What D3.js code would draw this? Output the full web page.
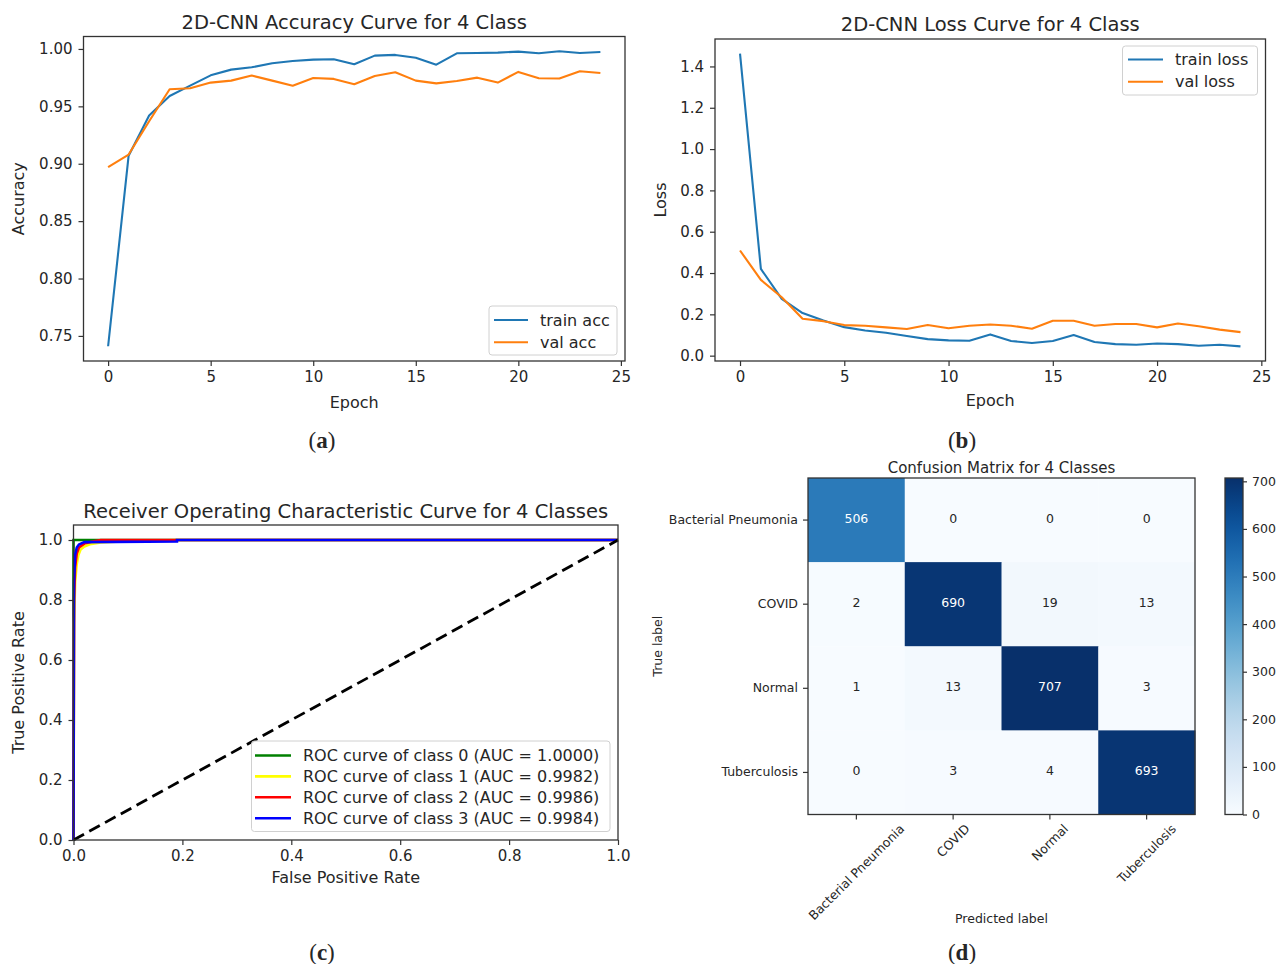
<!DOCTYPE html>
<html>
<head>
<meta charset="utf-8">
<script src="https://cdn.jsdelivr.net/npm/d3@7"></script>
<style>
body { margin: 0; background: #fff; }
text { font-family: "DejaVu Sans", sans-serif; fill: #262626; }
.caption { font-family: "Liberation Serif", serif; font-size: 23px; }
</style>
</head>
<body>
<div id="chart"></div>
<script>
// ---- data ----
const epochs = [0, 1, 2, 3, 4, 5, 6, 7, 8, 9, 10, 11, 12, 13, 14, 15, 16, 17, 18, 19, 20, 21, 22, 23, 24];
const trainAcc = [0.741, 0.907, 0.942, 0.959, 0.968, 0.977, 0.982, 0.984, 0.9875, 0.9895, 0.9907, 0.991, 0.9867, 0.9942, 0.9948, 0.9924, 0.9863, 0.9962, 0.9965, 0.9968, 0.9977, 0.9962, 0.998, 0.9965, 0.9974];
const valAcc = [0.897, 0.908, 0.937, 0.9649, 0.9658, 0.9707, 0.9724, 0.9768, 0.9724, 0.968, 0.9747, 0.9739, 0.9692, 0.9765, 0.9797, 0.9724, 0.970, 0.9721, 0.975, 0.9707, 0.980, 0.9745, 0.9742, 0.9806, 0.9791];
const trainLoss = [1.462, 0.420, 0.275, 0.206, 0.170, 0.138, 0.122, 0.111, 0.095, 0.080, 0.074, 0.072, 0.103, 0.071, 0.061, 0.071, 0.100, 0.066, 0.056, 0.053, 0.059, 0.056, 0.048, 0.053, 0.045];
const valLoss = [0.509, 0.367, 0.283, 0.179, 0.167, 0.148, 0.145, 0.137, 0.129, 0.148, 0.133, 0.145, 0.151, 0.145, 0.130, 0.169, 0.169, 0.145, 0.153, 0.153, 0.137, 0.156, 0.142, 0.126, 0.114];

const accTicks = [0.75, 0.80, 0.85, 0.90, 0.95, 1.00];
const lossTicks = [0.0, 0.2, 0.4, 0.6, 0.8, 1.0, 1.2, 1.4];
const epochTicks = [0, 5, 10, 15, 20, 25];

// ROC curves (fpr, tpr) per class
const rocNames = ["ROC curve of class 0 (AUC = 1.0000)", "ROC curve of class 1 (AUC = 0.9982)",
                  "ROC curve of class 2 (AUC = 0.9986)", "ROC curve of class 3 (AUC = 0.9984)"];
const rocColors = ["green", "yellow", "red", "blue"];
const rocFpr0 = [0, 0, 1];
const rocTpr0 = [0, 1, 1];
const rocFpr1 = [0, 0.001, 0.003, 0.006, 0.009, 0.013, 0.02, 0.03, 0.05, 0.1, 0.19, 1];
const rocTpr1 = [0, 0.72, 0.86, 0.92, 0.95, 0.968, 0.978, 0.986, 0.992, 0.996, 1, 1];
const rocFpr2 = [0, 0.001, 0.003, 0.006, 0.01, 0.02, 0.035, 0.05, 1];
const rocTpr2 = [0, 0.8, 0.91, 0.955, 0.975, 0.988, 0.995, 1, 1];
const rocFpr3 = [0, 0.001, 0.003, 0.006, 0.01, 0.02, 0.19, 0.19, 1];
const rocTpr3 = [0, 0.86, 0.95, 0.975, 0.985, 0.993, 0.995, 1, 1];
const rateTicks = [0, 0.2, 0.4, 0.6, 0.8, 1.0];

// confusion matrix
const classNames = ["Bacterial Pneumonia", "COVID", "Normal", "Tuberculosis"];
const confusion = [
    [506, 0, 0, 0],
    [2, 690, 19, 13],
    [1, 13, 707, 3],
    [0, 3, 4, 693]
];
const colorbarTicks = [0, 100, 200, 300, 400, 500, 600, 700];

// ---- setup ----
const svg = d3.select("#chart").append("svg")
    .attr("width", 1282)
    .attr("height", 964);
svg.append("rect").attr("width", 1282).attr("height", 964).attr("fill", "#fff");

const TICK_FS = 15, LABEL_FS = 16, LEGEND_FS = 16, TITLE_FS = 19.5;

// matplotlib style autoscale: 5% margin on each side
function padDomain(vals) {
    const [lo, hi] = d3.extent(vals);
    const m = (hi - lo) * 0.05;
    return [lo - m, hi + m];
}

function frame(box) {
    svg.append("rect")
        .attr("x", box.left).attr("y", box.top)
        .attr("width", box.right - box.left).attr("height", box.bottom - box.top)
        .attr("fill", "none").attr("stroke", "#333").attr("stroke-width", 1.3);
}

function styleAxis(g, fs) {
    g.select(".domain").remove();
    g.selectAll(".tick line").attr("stroke", "#333").attr("stroke-width", 1.2);
    g.selectAll(".tick text").style("font-size", fs + "px");
}

function drawAxes(box, x, y, xTicks, yTicks, xFmt, yFmt) {
    const gx = svg.append("g")
        .attr("transform", "translate(0," + box.bottom + ")")
        .call(d3.axisBottom(x).tickValues(xTicks).tickFormat(xFmt).tickSize(5).tickPadding(5));
    styleAxis(gx, TICK_FS);
    const gy = svg.append("g")
        .attr("transform", "translate(" + box.left + ",0)")
        .call(d3.axisLeft(y).tickValues(yTicks).tickFormat(yFmt).tickSize(5).tickPadding(6));
    styleAxis(gy, TICK_FS);
}

function title(txt, x, y, fs) {
    svg.append("text").attr("x", x).attr("y", y)
        .attr("text-anchor", "middle").style("font-size", fs + "px").text(txt);
}

function yLabel(txt, x, y, fs) {
    svg.append("text")
        .attr("transform", "translate(" + x + "," + y + ") rotate(-90)")
        .attr("text-anchor", "middle").attr("dominant-baseline", "central")
        .style("font-size", fs + "px").text(txt);
}

function caption(letter, x, y) {
    const t = svg.append("text").attr("class", "caption")
        .attr("x", x).attr("y", y).attr("text-anchor", "middle");
    t.append("tspan").text("(");
    t.append("tspan").attr("font-weight", "bold").text(letter);
    t.append("tspan").text(")");
}

// legend: box = {x, y, w, h}, rows at y0 + i*gap
function legend(box, names, colors, lx0, lx1, tx, y0, gap, lw) {
    svg.append("rect")
        .attr("x", box.x).attr("y", box.y).attr("width", box.w).attr("height", box.h)
        .attr("rx", 3).attr("fill", "#fff").attr("fill-opacity", 0.85)
        .attr("stroke", "#d0d0d0").attr("stroke-width", 1);
    names.forEach((n, i) => {
        const yy = y0 + i * gap;
        svg.append("line").attr("x1", lx0).attr("x2", lx1).attr("y1", yy).attr("y2", yy)
            .attr("stroke", colors[i]).attr("stroke-width", lw);
        svg.append("text").attr("x", tx).attr("y", yy).attr("dominant-baseline", "central")
            .style("font-size", LEGEND_FS + "px").text(n);
    });
}

// ---- panels (a) and (b) ----
function linePanel(cfg) {
    const box = cfg.box;
    const x = d3.scaleLinear().domain(padDomain(epochs)).range([box.left, box.right]);
    const y = d3.scaleLinear().domain(padDomain(cfg.series.flatMap(s => s.values))).range([box.bottom, box.top]);

    const line = d3.line().x((d, i) => x(epochs[i])).y(d => y(d));
    cfg.series.forEach(s => {
        svg.append("path").datum(s.values)
            .attr("d", line).attr("fill", "none")
            .attr("stroke", s.color).attr("stroke-width", 2.1)
            .attr("stroke-linejoin", "round");
    });

    drawAxes(box, x, y, epochTicks, cfg.yTicks, d3.format("d"), d3.format(cfg.yFmt));
    frame(box);

    title(cfg.title, (box.left + box.right) / 2, cfg.titleY, TITLE_FS);
    svg.append("text").attr("x", (box.left + box.right) / 2).attr("y", cfg.xlabelY)
        .attr("text-anchor", "middle").style("font-size", LABEL_FS + "px").text("Epoch");
    yLabel(cfg.ylabel, cfg.ylabelX, (box.top + box.bottom) / 2, LABEL_FS);

    const L = cfg.legend;
    legend(L.box, cfg.series.map(s => s.name), cfg.series.map(s => s.color),
        L.lx0, L.lx1, L.tx, L.y0, L.gap, 2.1);
}

linePanel({
    box: { left: 83.5, right: 625, top: 36.5, bottom: 361 },
    series: [
        { values: trainAcc, color: "#1f77b4", name: "train acc" },
        { values: valAcc, color: "#ff7f0e", name: "val acc" }
    ],
    yTicks: accTicks, yFmt: ".2f",
    title: "2D-CNN Accuracy Curve for 4 Class", titleY: 29,
    xlabelY: 408, ylabel: "Accuracy", ylabelX: 18,
    legend: { box: { x: 489, y: 306, w: 128, h: 49 }, lx0: 494, lx1: 528, tx: 540, y0: 320, gap: 22.3 }
});

linePanel({
    box: { left: 715, right: 1265.5, top: 39, bottom: 361 },
    series: [
        { values: trainLoss, color: "#1f77b4", name: "train loss" },
        { values: valLoss, color: "#ff7f0e", name: "val loss" }
    ],
    yTicks: lossTicks, yFmt: ".1f",
    title: "2D-CNN Loss Curve for 4 Class", titleY: 31,
    xlabelY: 406, ylabel: "Loss", ylabelX: 660,
    legend: { box: { x: 1122.5, y: 46, w: 135, h: 49 }, lx0: 1128, lx1: 1163, tx: 1175, y0: 59.5, gap: 22.3 }
});

caption("a", 322, 448);
caption("b", 962, 448);

// ---- panel (c) ROC ----
(function () {
    const box = { left: 73.5, right: 618, top: 525, bottom: 840 };
    const x = d3.scaleLinear().domain([0, 1]).range([box.left, box.right]);
    const y = d3.scaleLinear().domain([0, 1.05]).range([box.bottom, box.top]);

    const rocFpr = [rocFpr0, rocFpr1, rocFpr2, rocFpr3];
    const rocTpr = [rocTpr0, rocTpr1, rocTpr2, rocTpr3];
    const line = d3.line().x(d => x(d[0])).y(d => y(d[1]));

    rocFpr.forEach((f, k) => {
        svg.append("path").datum(f.map((v, i) => [v, rocTpr[k][i]]))
            .attr("d", line).attr("fill", "none")
            .attr("stroke", rocColors[k]).attr("stroke-width", 2.6);
    });

    // chance diagonal
    svg.append("path").datum([[0, 0], [1, 1]])
        .attr("d", line).attr("fill", "none")
        .attr("stroke", "#000").attr("stroke-width", 2.8)
        .attr("stroke-dasharray", "12,6");

    drawAxes(box, x, y, rateTicks, rateTicks, d3.format(".1f"), d3.format(".1f"));
    frame(box);

    title("Receiver Operating Characteristic Curve for 4 Classes", (box.left + box.right) / 2, 518, TITLE_FS);
    svg.append("text").attr("x", (box.left + box.right) / 2).attr("y", 883)
        .attr("text-anchor", "middle").style("font-size", LABEL_FS + "px").text("False Positive Rate");
    yLabel("True Positive Rate", 18, (box.top + box.bottom) / 2, LABEL_FS);

    legend({ x: 251.5, y: 741, w: 358.5, h: 90.5 }, rocNames, rocColors,
        255, 291, 303, 755.5, 20.9, 2.6);
})();

caption("c", 322, 960);

// ---- panel (d) confusion matrix ----
(function () {
    const box = { left: 808, right: 1195, top: 478, bottom: 814.5 };
    const vmax = d3.max(confusion.flat());
    const color = d3.scaleSequential(d3.interpolateBlues).domain([0, vmax]);
    const x = d3.scaleBand().domain(classNames).range([box.left, box.right]);
    const y = d3.scaleBand().domain(classNames).range([box.top, box.bottom]);

    const cells = confusion.flatMap((row, r) => row.map((v, c) => ({ r, c, v })));
    svg.append("g").selectAll("rect").data(cells).join("rect")
        .attr("x", d => x(classNames[d.c])).attr("y", d => y(classNames[d.r]))
        .attr("width", x.bandwidth() + 0.5).attr("height", y.bandwidth() + 0.5)
        .attr("fill", d => color(d.v));

    svg.append("g").selectAll("text").data(cells).join("text")
        .attr("x", d => x(classNames[d.c]) + x.bandwidth() / 2)
        .attr("y", d => y(classNames[d.r]) + y.bandwidth() / 2 - 2)
        .attr("text-anchor", "middle").attr("dominant-baseline", "central")
        .style("font-size", "12.5px")
        .style("fill", d => d.v > vmax / 2 ? "#fff" : "#262626")
        .text(d => d.v);

    frame(box);

    // y ticks
    const gy = svg.append("g").attr("transform", "translate(" + box.left + ",0)")
        .call(d3.axisLeft(y).tickSize(5).tickPadding(5));
    styleAxis(gy, 12.5);

    // x ticks, labels rotated 45deg and centred on the tick
    const gx = svg.append("g").attr("transform", "translate(0," + box.bottom + ")")
        .call(d3.axisBottom(x).tickSize(5).tickFormat(""));
    styleAxis(gx, 12.5);
    classNames.forEach(n => {
        const t = svg.append("text")
            .attr("text-anchor", "middle").attr("dominant-baseline", "central")
            .style("font-size", "12.5px").text(n);
        const len = t.node().getComputedTextLength();
        const h = 12.5 * 1.1;
        const cx = x(n) + x.bandwidth() / 2;
        const cy = box.bottom + 7 + (len + h) * Math.SQRT1_2 / 2;
        t.attr("transform", "translate(" + cx + "," + cy + ") rotate(-45)");
    });

    title("Confusion Matrix for 4 Classes", (box.left + box.right) / 2, 473, 15);
    svg.append("text").attr("x", (box.left + box.right) / 2).attr("y", 923)
        .attr("text-anchor", "middle").style("font-size", "12.5px").text("Predicted label");
    yLabel("True label", 657, (box.top + box.bottom) / 2, 12.5);

    // colorbar
    const cb = { left: 1225, right: 1243, top: 478, bottom: 814.5 };
    const grad = svg.append("defs").append("linearGradient")
        .attr("id", "cbgrad").attr("x1", 0).attr("x2", 0).attr("y1", 1).attr("y2", 0);
    d3.range(0, 1.0001, 0.05).forEach(t => {
        grad.append("stop").attr("offset", t).attr("stop-color", color(t * vmax));
    });
    svg.append("rect").attr("x", cb.left).attr("y", cb.top)
        .attr("width", cb.right - cb.left).attr("height", cb.bottom - cb.top)
        .attr("fill", "url(#cbgrad)");
    const cy = d3.scaleLinear().domain([0, vmax]).range([cb.bottom, cb.top]);
    const gc = svg.append("g").attr("transform", "translate(" + cb.right + ",0)")
        .call(d3.axisRight(cy).tickValues(colorbarTicks).tickSize(4).tickPadding(5));
    styleAxis(gc, 12.5);
    frame(cb);
})();

caption("d", 962, 960);
</script>
</body>
</html>
